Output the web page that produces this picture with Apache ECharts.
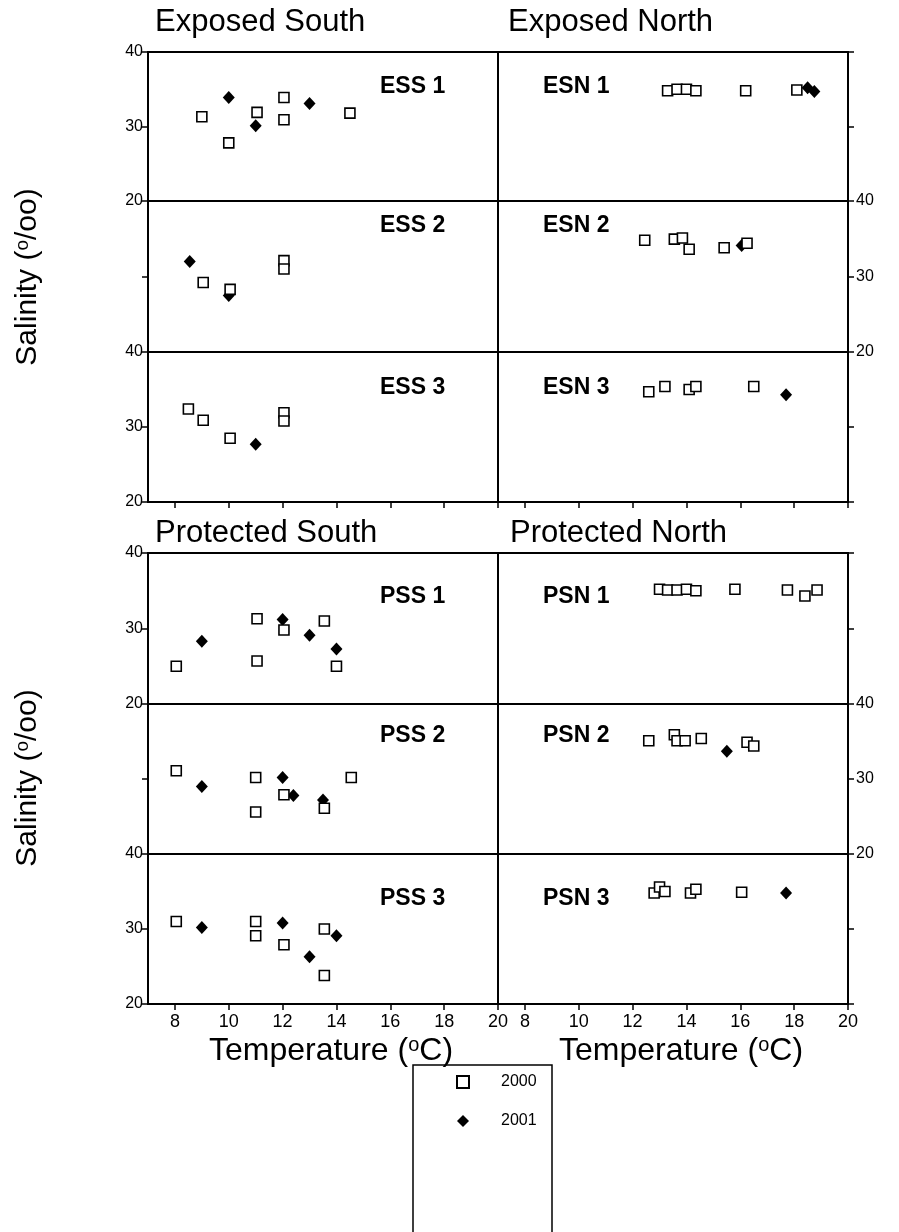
<!DOCTYPE html>
<html><head><meta charset="utf-8">
<script src="https://cdn.jsdelivr.net/npm/echarts@6/dist/echarts.min.js"></script>
<style>html,body{margin:0;padding:0;background:#fff}#c{width:899px;height:1232px}</style>
</head><body><div id="c"></div><script>
const FONT = '"Liberation Sans", Arial, sans-serif';
const xTickValues = [8, 10, 12, 14, 16, 18, 20];
const xMin = 7, xMax = 20;
const yMin = 20, yMax = 40, yInterval = 10;
const groupTitles = ['Exposed South', 'Exposed North', 'Protected South', 'Protected North'];
const panelNames = ['ESS 1', 'ESN 1', 'ESS 2', 'ESN 2', 'ESS 3', 'ESN 3', 'PSS 1', 'PSN 1', 'PSS 2', 'PSN 2', 'PSS 3', 'PSN 3'];
const yearNames = ['2000', '2001'];

// [temperature (°C), salinity (o/oo)]
const ess1_2000 = [[9.0,31.3],[10.0,27.8],[11.05,31.9],[12.05,33.9],[12.05,30.9],[14.5,31.8]];
const ess1_2001 = [[10.0,33.9],[11.0,30.1],[13.0,33.1]];
const esn1_2000 = [[13.3,34.8],[13.65,35.0],[14.0,35.0],[14.35,34.8],[16.2,34.8],[18.1,34.9]];
const esn1_2001 = [[18.5,35.2],[18.75,34.7]];
const ess2_2000 = [[9.05,29.2],[10.05,28.3],[12.05,32.1],[12.05,31.0]];
const ess2_2001 = [[8.55,32.0],[10.0,27.5]];
const esn2_2000 = [[12.45,34.8],[13.55,34.95],[13.85,35.1],[14.1,33.6],[15.4,33.8],[16.25,34.4]];
const esn2_2001 = [[16.05,34.1]];
const ess3_2000 = [[8.5,32.4],[9.05,30.9],[10.05,28.5],[12.05,31.9],[12.05,30.8]];
const ess3_2001 = [[11.0,27.7]];
const esn3_2000 = [[12.6,34.7],[13.2,35.4],[14.1,35.0],[14.35,35.4],[16.5,35.4]];
const esn3_2001 = [[17.7,34.3]];
const pss1_2000 = [[8.05,25.0],[11.05,31.3],[11.05,25.7],[12.05,29.8],[13.55,31.0],[14.0,25.0]];
const pss1_2001 = [[9.0,28.3],[12.0,31.2],[13.0,29.1],[14.0,27.3]];
const psn1_2000 = [[13.0,35.2],[13.3,35.1],[13.65,35.1],[14.0,35.2],[14.35,35.0],[15.8,35.2],[17.75,35.1],[18.4,34.3],[18.85,35.1]];
const psn1_2001 = [];
const pss2_2000 = [[8.05,31.1],[11.0,30.2],[11.0,25.6],[12.05,27.9],[13.55,26.1],[14.55,30.2]];
const pss2_2001 = [[9.0,29.0],[12.0,30.2],[12.4,27.8],[13.5,27.2]];
const psn2_2000 = [[12.6,35.1],[13.55,35.9],[13.65,35.1],[13.95,35.1],[14.55,35.4],[16.25,34.9],[16.5,34.4]];
const psn2_2001 = [[15.5,33.7]];
const pss3_2000 = [[8.05,31.0],[11.0,31.0],[11.0,29.1],[12.05,27.9],[13.55,30.0],[13.55,23.8]];
const pss3_2001 = [[9.0,30.2],[12.0,30.8],[13.0,26.3],[14.0,29.1]];
const psn3_2000 = [[12.8,34.8],[13.0,35.6],[13.2,35.0],[14.15,34.8],[14.35,35.3],[16.05,34.9]];
const psn3_2001 = [[17.7,34.8]];

const data2000 = [ess1_2000, esn1_2000, ess2_2000, esn2_2000, ess3_2000, esn3_2000, pss1_2000, psn1_2000, pss2_2000, psn2_2000, pss3_2000, psn3_2000];
const data2001 = [ess1_2001, esn1_2001, ess2_2001, esn2_2001, ess3_2001, esn3_2001, pss1_2001, psn1_2001, pss2_2001, psn2_2001, pss3_2001, psn3_2001];

// layout
const cols = [[148, 350], [498, 350]];
const rows = [[52, 149], [201, 151], [352, 150], [553, 151], [704, 150], [854, 150]];
const labelX = [380, 543];
const labelY = [88, 227, 389, 598, 737, 900];

const grids = [], xAxes = [], yAxes = [], series = [], graphics = [];
for (let i = 0; i < 12; i++) {
  const r = Math.floor(i / 2), c = i % 2;
  grids.push({left: cols[c][0], width: cols[c][1], top: rows[r][0], height: rows[r][1],
    show: true, borderColor: '#000', borderWidth: 2, backgroundColor: 'transparent'});
  const bottomRow = (r === 2 || r === 5);
  xAxes.push({gridIndex: i, type: 'value', min: xMin, max: xMax,
    axisLine: {show: false}, splitLine: {show: false},
    axisTick: {show: bottomRow, inside: false, length: 6, customValues: xTickValues, lineStyle: {color: '#000', width: 1.5}},
    axisLabel: {show: r === 5, customValues: xTickValues, color: '#000', fontSize: 18, fontFamily: FONT, margin: 9}});
  const showYLab = c === 0 ? (r === 0 || r === 2 || r === 3 || r === 5) : (r === 1 || r === 4);
  yAxes.push({gridIndex: i, type: 'value', min: yMin, max: yMax, interval: yInterval,
    position: c === 0 ? 'left' : 'right',
    axisLine: {show: false}, splitLine: {show: false},
    axisTick: {show: true, inside: false, length: 6, lineStyle: {color: '#000', width: 1.5}},
    axisLabel: {show: showYLab, color: '#000', fontSize: 16, fontFamily: FONT, margin: c === 0 ? 5 : 8}});
  series.push({name: yearNames[1], type: 'scatter', xAxisIndex: i, yAxisIndex: i, data: data2001[i],
    symbol: 'diamond', symbolSize: [12, 13], itemStyle: {color: '#000', opacity: 1}, z: 2, silent: true});
  series.push({name: yearNames[0], type: 'scatter', xAxisIndex: i, yAxisIndex: i, data: data2000[i],
    symbol: 'rect', symbolSize: 10, itemStyle: {color: '#fff', borderColor: '#000', borderWidth: 1.6, opacity: 1}, z: 3, silent: true});
  graphics.push({type: 'text', left: labelX[c], top: labelY[r] - 13,
    style: {text: panelNames[i], font: 'bold 23px ' + FONT, fill: '#000'}});
}
// group titles
const titlePos = [[155, 22], [508, 22], [155, 533], [510, 533]];
groupTitles.forEach((t, k) => graphics.push({type: 'text', x: titlePos[k][0], y: titlePos[k][1],
  style: {text: t, font: '31px ' + FONT, fill: '#000', align: 'left', verticalAlign: 'middle'}}));
// axis titles
const salRich = {b: {fontSize: 30, fontFamily: FONT, fill: '#000'}, s: {fontSize: 19, fontFamily: FONT, fill: '#000', verticalAlign: 'top'}};
[277, 778].forEach(yc => graphics.push({type: 'text', x: 28, y: yc, rotation: Math.PI / 2,
  style: {text: '{b|Salinity (}{s|o}{b|/oo)}', rich: salRich, align: 'center', verticalAlign: 'middle', fill: '#000'}}));
const tRich = {b: {fontSize: 32, fontFamily: FONT, fill: '#000'}, s: {fontSize: 20, fontFamily: FONT, fill: '#000', verticalAlign: 'top'}};
[331, 681].forEach(xc => graphics.push({type: 'text', x: xc, y: 1051,
  style: {text: '{b|Temperature (}{s|o}{b|C)}', rich: tRich, align: 'center', verticalAlign: 'middle', fill: '#000'}}));
// legend frame (extends past the bottom edge as in the reference)
graphics.push({type: 'rect', shape: {x: 413, y: 1065, width: 139, height: 200},
  style: {fill: 'none', stroke: '#000', lineWidth: 1.5}, z: -1});

const option = {
  animation: false,
  backgroundColor: '#fff',
  grid: grids, xAxis: xAxes, yAxis: yAxes, series: series,
  legend: {data: yearNames, orient: 'vertical', left: 456, top: 1074,
    padding: 0, itemWidth: 12, itemHeight: 12, itemGap: 23, selectedMode: false,
    textStyle: {fontSize: 16, fontFamily: FONT, color: '#000', padding: [0, 0, 0, 27]}},
  graphic: graphics
};
const chart = echarts.init(document.getElementById('c'), null, {renderer: 'canvas'});
chart.setOption(option);
</script></body></html>
